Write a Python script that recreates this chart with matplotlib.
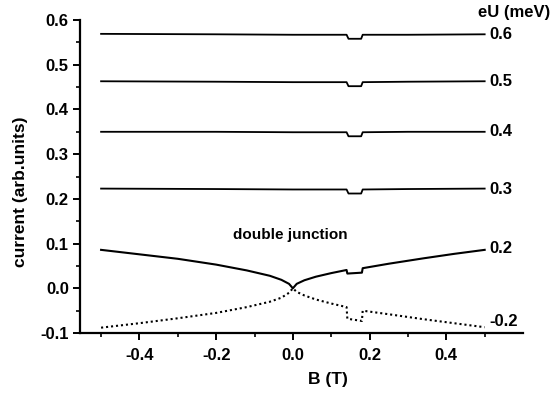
import matplotlib
matplotlib.use("Agg")
import matplotlib.pyplot as plt
from matplotlib.ticker import FixedLocator

plt.rcParams["font.family"] = ["Liberation Sans", "DejaVu Sans"]
plt.rcParams["font.weight"] = "bold"

# flat curves (eU = 0.3 ... 0.6 meV), same B grid with the dip near 0.16 T
B_flat = [-0.5, -0.2, 0.0, 0.14, 0.145, 0.178, 0.182, 0.3, 0.5]
I_06 = [0.569, 0.568, 0.567, 0.567, 0.558, 0.558, 0.567, 0.567, 0.568]
I_05 = [0.463, 0.462, 0.461, 0.461, 0.452, 0.452, 0.461, 0.462, 0.463]
I_04 = [0.350, 0.350, 0.349, 0.349, 0.340, 0.340, 0.349, 0.350, 0.350]
I_03 = [0.223, 0.222, 0.221, 0.221, 0.212, 0.212, 0.221, 0.222, 0.223]

# eU = 0.2 (solid) and -0.2 (dotted)
B_low = [-0.5, -0.4, -0.3, -0.2, -0.12, -0.06, -0.03, -0.01, 0.0, 0.01, 0.03,
         0.06, 0.1, 0.14, 0.142, 0.18, 0.182, 0.25, 0.34, 0.42, 0.5]
I_02 = [0.086, 0.076, 0.066, 0.053, 0.040, 0.028, 0.019, 0.010, 0.0, 0.010, 0.018,
        0.026, 0.034, 0.041, 0.033, 0.035, 0.045, 0.055, 0.067, 0.077, 0.086]
I_m02 = [-0.088, -0.078, -0.067, -0.055, -0.042, -0.030, -0.021, -0.010, 0.0, -0.008, -0.016,
         -0.025, -0.034, -0.042, -0.068, -0.073, -0.050, -0.058, -0.069, -0.078, -0.087]

labels = ["0.6", "0.5", "0.4", "0.3", "0.2", "-0.2"]
label_y = [0.568, 0.463, 0.350, 0.222, 0.088, -0.074]

x_major = [-0.4, -0.2, 0.0, 0.2, 0.4]
x_minor = [-0.5, -0.3, -0.1, 0.1, 0.3, 0.5]
y_major = [-0.1, 0.0, 0.1, 0.2, 0.3, 0.4, 0.5, 0.6]
y_minor = [-0.05, 0.05, 0.15, 0.25, 0.35, 0.45, 0.55]

fig = plt.figure(figsize=(5.57, 3.96), dpi=100)
ax = fig.add_axes([0.1436, 0.159, 0.7954, 0.7905])

for I in [I_06, I_05, I_04, I_03]:
    ax.plot(B_flat, I, color="black", lw=1.3)
ax.plot(B_low, I_02, color="black", lw=1.5)
ax.plot(B_low, I_m02, color="black", lw=1.5, linestyle=(0, (1, 1.4)))

for lab, yy in zip(labels, label_y):
    ax.text(0.513, yy, lab, fontsize=12, fontweight="bold", va="center", ha="left")
ax.text(0.482, 0.616, "eU (meV)", fontsize=12, fontweight="bold", va="center", ha="left",
        clip_on=False)
ax.text(-0.157, 0.119, "double junction", fontsize=11, fontweight="bold", va="center", ha="left")

ax.set_xlim(-0.555, 0.6)
ax.set_ylim(-0.1, 0.6)
ax.xaxis.set_major_locator(FixedLocator(x_major))
ax.xaxis.set_minor_locator(FixedLocator(x_minor))
ax.yaxis.set_major_locator(FixedLocator(y_major))
ax.yaxis.set_minor_locator(FixedLocator(y_minor))
ax.xaxis.set_major_formatter(plt.FuncFormatter(lambda v, p: f"{v:.1f}"))
ax.yaxis.set_major_formatter(plt.FuncFormatter(lambda v, p: f"{v:.1f}"))

for s in ["top", "right"]:
    ax.spines[s].set_visible(False)
for s in ["left", "bottom"]:
    ax.spines[s].set_linewidth(1.6)
ax.tick_params(which="major", direction="out", length=5, width=1.4, labelsize=12, pad=3)
ax.tick_params(which="minor", direction="out", length=3, width=1.2)
ax.tick_params(axis="x", which="major", pad=6)
for t in ax.get_xticklabels() + ax.get_yticklabels():
    t.set_fontweight("bold")

ax.set_xlabel("B (T)", fontsize=12.5, fontweight="bold")
ax.set_ylabel("current (arb.units)", fontsize=12.5, fontweight="bold")
ax.xaxis.set_label_coords(0.56, -0.125)
ax.yaxis.set_label_coords(-0.117, 0.45)

fig.savefig("out.png", dpi=100)
